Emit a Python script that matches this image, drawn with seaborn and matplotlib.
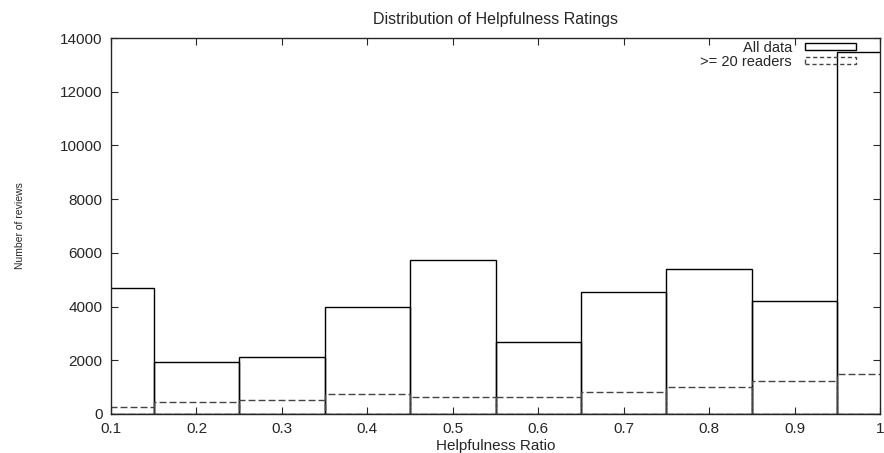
import seaborn as sns
import numpy as np
import matplotlib.pyplot as plt
from matplotlib.patches import Rectangle

# bin centres and counts
ratio_bins = [0.1, 0.2, 0.3, 0.4, 0.5, 0.6, 0.7, 0.8, 0.9, 1.0]
all_data = [4700, 1920, 2110, 3990, 5740, 2690, 4550, 5410, 4200, 13480]
readers_20 = [260, 440, 510, 740, 630, 630, 810, 990, 1240, 1490]
bin_edges = [0.05, 0.15, 0.25, 0.35, 0.45, 0.55, 0.65, 0.75, 0.85, 0.95, 1.05]

sns.set_style('ticks')
plt.rcParams['font.family'] = ['Liberation Sans', 'DejaVu Sans']

fig = plt.figure(figsize=(8.84, 4.53), dpi=100)
ax = fig.add_axes([0.1256, 0.0861, 0.8699, 0.83])

dash = (0, (5, 2.2))
sns.histplot(x=ratio_bins, weights=all_data, bins=bin_edges, fill=False,
             color='black', linewidth=1.0, ax=ax)
sns.histplot(x=ratio_bins, weights=readers_20, bins=bin_edges, fill=False,
             color='#444444', linewidth=1.0, linestyle=dash, ax=ax)

ax.set_xlim(0.1, 1.0)
ax.set_ylim(0, 14000)
ax.set_xticks([0.1, 0.2, 0.3, 0.4, 0.5, 0.6, 0.7, 0.8, 0.9, 1.0])
ax.set_xticklabels(['0.1', '0.2', '0.3', '0.4', '0.5', '0.6', '0.7', '0.8', '0.9', '1'])
ax.set_yticks(range(0, 14001, 2000))
ax.tick_params(direction='in', top=True, right=True, length=5, width=0.8,
               labelsize=11, pad=6)
for s in ax.spines.values():
    s.set_visible(True)
    s.set_linewidth(1.0)

ax.set_xlabel('Helpfulness Ratio', fontsize=11, labelpad=2)
ax.set_ylabel('Number of reviews', fontsize=7.5)
ax.yaxis.set_label_coords(-0.112, 0.5)
ax.set_title('Distribution of Helpfulness Ratings', fontsize=11.5, pad=10)

h1 = Rectangle((0, 0), 1, 1, fill=False, edgecolor='black', linewidth=1.0)
h2 = Rectangle((0, 0), 1, 1, fill=False, edgecolor='#444444', linewidth=1.0,
               linestyle=(0, (3, 2)))
leg = ax.legend([h1, h2], ['All data', '>= 20 readers'], loc='upper right',
                bbox_to_anchor=(1 - 21 / 769, 1.0),
                markerfirst=False, frameon=False, fontsize=10.5,
                handlelength=3.5, handleheight=0.35, handletextpad=0.9,
                labelspacing=0.0, borderaxespad=0.0, borderpad=0.2)

fig.savefig('out.png', dpi=100)
